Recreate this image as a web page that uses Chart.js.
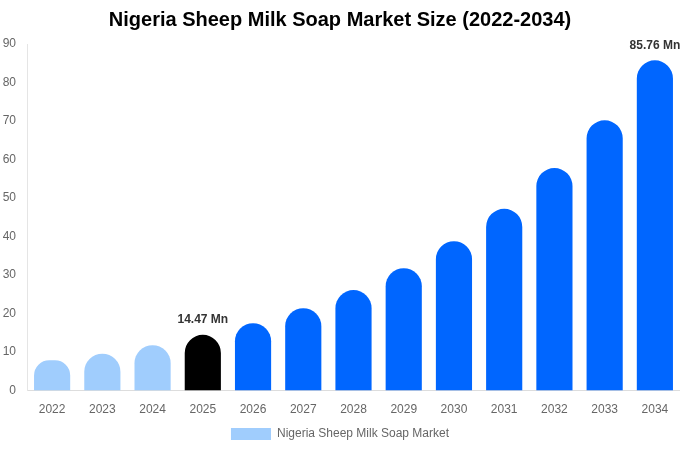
<!DOCTYPE html>
<html>
<head>
<meta charset="utf-8">
<script src="https://cdn.jsdelivr.net/npm/chart.js@4"></script>
<style>
  html, body { margin: 0; padding: 0; background: #fff; }
  #wrap { width: 680px; height: 450px; }
</style>
</head>
<body>
<div id="wrap"><canvas id="barChart"></canvas></div>
<script>
const years = ["2022", "2023", "2024", "2025", "2026", "2027", "2028", "2029", "2030", "2031", "2032", "2033", "2034"];
const marketSize = [7.9, 9.6, 11.8, 14.47, 17.5, 21.4, 26.1, 31.8, 38.8, 47.2, 57.8, 70.2, 85.76];
const barColors = ["#a0cdfd", "#a0cdfd", "#a0cdfd", "#000000", "#0066ff", "#0066ff", "#0066ff", "#0066ff", "#0066ff", "#0066ff", "#0066ff", "#0066ff", "#0066ff"];
const labelled = { 3: "14.47 Mn", 12: "85.76 Mn" };

// draws the value text over the highlighted bars
const valueLabels = {
  id: "valueLabels",
  afterDatasetsDraw(chart) {
    const ctx = chart.ctx;
    const meta = chart.getDatasetMeta(0);
    ctx.save();
    ctx.font = "bold 12px 'Liberation Sans', Arial, sans-serif";
    ctx.fillStyle = "#333";
    ctx.textAlign = "center";
    ctx.textBaseline = "bottom";
    Object.keys(labelled).forEach(i => {
      const bar = meta.data[i];
      ctx.fillText(labelled[i], bar.x, bar.y - 9);
    });
    ctx.restore();
  }
};

const ctx = document.getElementById("barChart").getContext("2d");
new Chart(ctx, {
  type: "bar",
  data: {
    labels: years,
    datasets: [{
      label: "Nigeria Sheep Milk Soap Market",
      data: marketSize,
      backgroundColor: barColors,
      borderRadius: { topLeft: 20, topRight: 20 },
      borderSkipped: "bottom"
    }]
  },
  options: {
    responsive: true,
    maintainAspectRatio: false,
    animation: false,
    layout: { padding: 0 },
    plugins: {
      title: {
        display: true,
        text: "Nigeria Sheep Milk Soap Market Size (2022-2034)",
        color: "#000",
        font: { size: 20, weight: "bold", family: "'Liberation Sans', Arial, sans-serif" },
        padding: { top: 8, bottom: 12 }
      },
      legend: {
        position: "bottom",
        labels: {
          color: "#666",
          boxWidth: 40,
          boxHeight: 12,
          padding: 7,
          font: { size: 12, family: "'Liberation Sans', Arial, sans-serif" },
          generateLabels: () => [{
            text: "Nigeria Sheep Milk Soap Market",
            fillStyle: "#a0cdfd",
            strokeStyle: "#a0cdfd",
            lineWidth: 0,
            fontColor: "#666"
          }]
        }
      },
      tooltip: { enabled: false }
    },
    scales: {
      x: {
        grid: { display: false },
        border: { display: true, color: "#ddd" },
        ticks: { color: "#666", padding: 4, font: { size: 12, family: "'Liberation Sans', Arial, sans-serif" } }
      },
      y: {
        min: 0,
        max: 90,
        grid: { display: false },
        border: { display: true, color: "#e5e5e5" },
        ticks: { stepSize: 10, color: "#666", padding: 3, font: { size: 12, family: "'Liberation Sans', Arial, sans-serif" } },
        afterFit(scale) { scale.width = 27; }
      }
    }
  },
  plugins: [valueLabels]
});
</script>
</body>
</html>
